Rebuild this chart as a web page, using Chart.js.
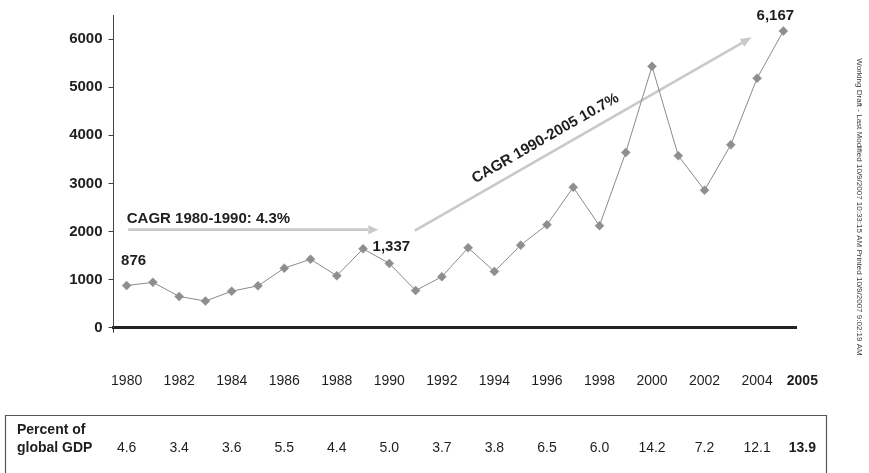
<!DOCTYPE html>
<html>
<head>
<meta charset="utf-8">
<script src="https://cdn.jsdelivr.net/npm/chart.js@4/dist/chart.umd.min.js"></script>
<style>
  html, body { margin: 0; padding: 0; background: #ffffff; }
  #wrap { position: relative; width: 869px; height: 473px; }
</style>
</head>
<body>
<div id="wrap"><canvas id="chart" width="869" height="473"></canvas></div>
<script>
// Annual values, 1980-2005
const years = ['1980','1981','1982','1983','1984','1985','1986','1987','1988','1989',
               '1990','1991','1992','1993','1994','1995','1996','1997','1998','1999',
               '2000','2001','2002','2003','2004','2005'];
const values = [876, 943, 650, 554, 759, 870, 1238, 1423, 1080, 1640,
                1337, 773, 1060, 1661, 1169, 1716, 2140, 2919, 2120, 3643,
                5433, 3575, 2858, 3801, 5187, 6167];

// Years shown under the axis and the matching share of global GDP
const yearTicks = ['1980','1982','1984','1986','1988','1990','1992','1994','1996','1998','2000','2002','2004','2005'];
const gdpShare  = ['4.6','3.4','3.6','5.5','4.4','5.0','3.7','3.8','6.5','6.0','14.2','7.2','12.1','13.9'];

// Value-axis ticks
const yTickValues = [0, 1000, 2000, 3000, 4000, 5000, 6000];

// Points that carry a value label
const labelledYears = ['1980', '1990', '2005'];

// Growth-rate call-outs
const cagrText = ['CAGR 1980-1990: 4.3%', 'CAGR 1990-2005 10.7%'];

const footerNote = 'Working Draft - Last Modified 10/9/2007 10:33:15 AM Printed 10/9/2007 9:02:19 AM';

const FONT = '"Liberation Sans", Arial, Helvetica, sans-serif';
const INK = '#1e1e1e';
const ARROW = '#c9c9c9';

function drawArrow(ctx, x1, y1, x2, y2, width, headLen, headHalf) {
  const ang = Math.atan2(y2 - y1, x2 - x1);
  const bx = x2 - Math.cos(ang) * headLen;
  const by = y2 - Math.sin(ang) * headLen;
  ctx.save();
  ctx.strokeStyle = ARROW;
  ctx.fillStyle = ARROW;
  ctx.lineWidth = width;
  ctx.lineCap = 'butt';
  ctx.beginPath();
  ctx.moveTo(x1, y1);
  ctx.lineTo(bx, by);
  ctx.stroke();
  ctx.beginPath();
  ctx.moveTo(x2, y2);
  ctx.lineTo(bx + Math.sin(ang) * headHalf, by - Math.cos(ang) * headHalf);
  ctx.lineTo(bx - Math.sin(ang) * headHalf, by + Math.cos(ang) * headHalf);
  ctx.closePath();
  ctx.fill();
  ctx.restore();
}

// Arrows sit behind the series line
const arrowsPlugin = {
  id: 'cagrArrows',
  beforeDatasetsDraw(chart) {
    const { ctx, scales: { x, y } } = chart;
    // first period: 1980 -> 1990
    const a1x1 = x.getPixelForValue(0.06), a1x2 = x.getPixelForValue(9.58);
    const a1y = y.getPixelForValue(2038);
    drawArrow(ctx, a1x1, a1y, a1x2, a1y, 2.6, 10, 4.5);

    // second period: 1990 -> 2005
    const a2x1 = x.getPixelForValue(10.97), a2y1 = y.getPixelForValue(2017);
    const a2x2 = x.getPixelForValue(23.79), a2y2 = y.getPixelForValue(6035);
    drawArrow(ctx, a2x1, a2y1, a2x2, a2y2, 2.6, 11, 4.5);

    ctx.save();
    ctx.fillStyle = INK;
    ctx.font = 'bold 15px ' + FONT;
    ctx.textAlign = 'left';
    ctx.textBaseline = 'middle';
    ctx.fillText(cagrText[0], a1x1 - 1.5, a1y - 11);

    const ang = Math.atan2(a2y2 - a2y1, a2x2 - a2x1);
    const t = 0.41;
    const qx = a2x1 + (a2x2 - a2x1) * t;
    const qy = a2y1 + (a2y2 - a2y1) * t;
    const off = 15;
    const cx = qx + Math.sin(ang) * off;
    const cy = qy - Math.cos(ang) * off;
    ctx.translate(cx, cy);
    ctx.rotate(ang);
    ctx.textAlign = 'center';
    ctx.fillText(cagrText[1], 0, 0);
    ctx.restore();
  }
};

const overlayPlugin = {
  id: 'overlay',
  afterDraw(chart) {
    const { ctx, scales: { x, y } } = chart;
    ctx.save();

    // value labels on selected points
    ctx.fillStyle = INK;
    ctx.font = 'bold 15px ' + FONT;
    ctx.textAlign = 'center';
    ctx.textBaseline = 'middle';
    const nudges = { '1980': [7, -25], '1990': [2, -17], '2005': [-8, -15] };
    labelledYears.forEach(yr => {
      const i = years.indexOf(yr);
      const px = x.getPixelForValue(i), py = y.getPixelForValue(values[i]);
      const n = nudges[yr];
      ctx.fillText(values[i].toLocaleString('en-US'), px + n[0], py + n[1]);
    });

    // year row and GDP-share row
    const colX = yearTicks.map((yr, k) => {
      const px = x.getPixelForValue(years.indexOf(yr));
      return k === yearTicks.length - 1 ? px + 19 : px;
    });
    yearTicks.forEach((yr, k) => {
      const last = k === yearTicks.length - 1;
      ctx.font = (last ? 'bold ' : '') + '14px ' + FONT;
      ctx.fillText(yr, colX[k], 381);
    });
    gdpShare.forEach((v, k) => {
      const last = k === gdpShare.length - 1;
      ctx.font = (last ? 'bold ' : '') + '14px ' + FONT;
      ctx.fillText(v, colX[k], 448);
    });

    // table frame
    ctx.strokeStyle = '#555';
    ctx.lineWidth = 1.2;
    ctx.beginPath();
    ctx.moveTo(5.5, 480);
    ctx.lineTo(5.5, 415.5);
    ctx.lineTo(826.5, 415.5);
    ctx.lineTo(826.5, 480);
    ctx.stroke();

    ctx.font = 'bold 14px ' + FONT;
    ctx.textAlign = 'left';
    ctx.fillText('Percent of', 17, 430);
    ctx.fillText('global GDP', 17, 448);

    // side note
    ctx.fillStyle = '#3a3a3a';
    ctx.font = '8px ' + FONT;
    ctx.translate(859, 207);
    ctx.rotate(Math.PI / 2);
    ctx.textAlign = 'center';
    ctx.fillText(footerNote, 0, 0);
    ctx.restore();
  }
};

new Chart(document.getElementById('chart'), {
  type: 'line',
  data: {
    labels: years,
    datasets: [{
      data: values,
      borderColor: '#8a8a8a',
      borderWidth: 1,
      tension: 0,
      pointStyle: 'rectRot',
      pointRadius: 4.5,
      pointBackgroundColor: '#8e8e8e',
      pointBorderColor: '#8e8e8e',
      pointBorderWidth: 0.5
    }]
  },
  options: {
    responsive: false,
    animation: false,
    devicePixelRatio: 1,
    layout: { padding: { top: 10.6, right: 72.5, left: 0, bottom: 0 } },
    plugins: { legend: { display: false }, tooltip: { enabled: false } },
    scales: {
      x: {
        offset: true,
        grid: {
          offset: true,
          drawOnChartArea: false,
          drawTicks: true,
          tickLength: 5,
          color: c => c.index === 0 ? '#333' : 'rgba(0,0,0,0)'
        },
        ticks: { display: false },
        border: { display: true, color: '#222', width: 3 },
        afterFit: s => { s.height = 145.3; }
      },
      y: {
        min: 0,
        max: 6500,
        afterBuildTicks: s => { s.ticks = yTickValues.map(v => ({ value: v })); },
        ticks: {
          autoSkip: false,
          padding: 6,
          color: INK,
          font: { family: FONT, size: 15, weight: 'bold' },
          callback: v => String(v)
        },
        grid: { drawOnChartArea: false, tickLength: 5, color: '#444' },
        border: { color: '#444', width: 1 },
        afterFit: s => { s.width = 113.5; }
      }
    }
  },
  plugins: [arrowsPlugin, overlayPlugin]
});
</script>
</body>
</html>
